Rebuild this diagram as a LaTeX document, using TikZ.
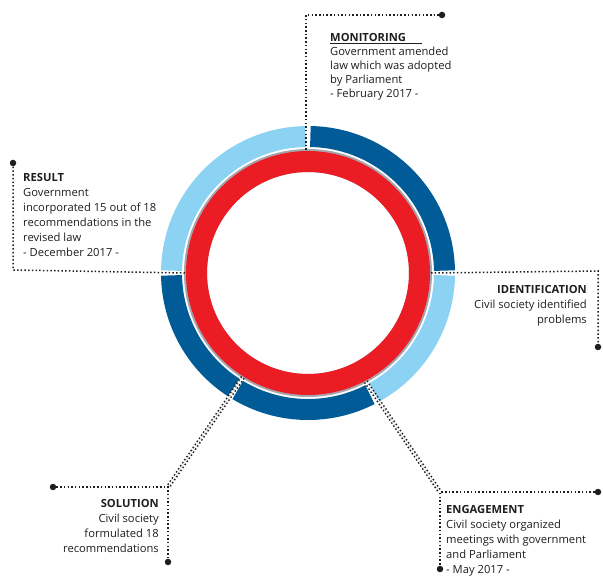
\documentclass[tikz,border=0pt]{standalone}
\usepackage{fontspec}
\setmainfont{Open Sans}
\usepackage{tikz}
\definecolor{ringdark}{RGB}{0,91,150}
\definecolor{ringlight}{RGB}{140,210,242}
\definecolor{ringred}{RGB}{236,28,36}
\definecolor{ringedge}{RGB}{165,165,175}
\definecolor{ink}{RGB}{30,30,30}
\tikzset{
  link/.style={draw=ink, line width=1.5pt, dash pattern=on 1.5pt off 2.2pt},
  twinlink/.style={link, double=white, double distance=1.3pt},
  enddot/.style={circle, fill=ink, inner sep=0pt, minimum size=6.5pt},
  stagetext/.style={inner sep=0pt, font=\fontsize{11.2}{15}\selectfont, text=ink},
}
\begin{document}
\begin{tikzpicture}[x=1pt,y=1pt]
\useasboundingbox (0,0) rectangle (604,576);

% the ring
\begin{scope}[shift={(308,303)}]
\foreach \from/\to/\col in {1/89/ringdark, 91/179/ringlight, 181/237/ringdark,
                            239/297/ringdark, 299/359/ringlight}
  \draw[\col, line width=21pt] (\from:136.5) arc[start angle=\from, end angle=\to, radius=136.5];
\draw[ringedge, line width=23pt] (0,0) circle[radius=112.5];
\draw[ringred, line width=21pt] (0,0) circle[radius=111.5];
\coordinate (res-in) at (180:123);
\coordinate (ide-in) at (0:123);
\coordinate (eng-in) at (-62:123);
\coordinate (sol-in) at (-122:123);
\end{scope}
\coordinate (mon-in) at (306,426);

% corners and end dots
\coordinate (mon-corner) at (306,561);
\node[enddot] (mon-dot) at (442,561) {};
\coordinate (res-corner) at (13,306);
\node[enddot] (res-dot) at (13,413) {};
\coordinate (ide-corner) at (598,305);
\node[enddot] (ide-dot) at (598,229) {};
\coordinate (eng-corner) at (440,84);
\node[enddot] (eng-dot1) at (598,84) {};
\node[enddot] (eng-dot2) at (440,7) {};
\coordinate (sol-corner) at (168,89);
\node[enddot] (sol-dot1) at (53,89) {};
\node[enddot] (sol-dot2) at (168,14) {};

% connectors
\draw[link] (mon-in) -- (mon-corner) -- (mon-dot);
\draw[link] (res-in) -- (res-corner) -- (res-dot);
\draw[link] (ide-in) -- (ide-corner) -- (ide-dot);
\draw[twinlink] (eng-in) -- (eng-corner);
\draw[link] (eng-dot1) -- (eng-corner) -- (eng-dot2);
\draw[twinlink] (sol-in) -- (sol-corner);
\draw[link] (sol-dot1) -- (sol-corner) -- (sol-dot2);

% texts (anchored at the baseline of the last line)
\node[stagetext, anchor=base west, align=left] (mon-text) at (330,478)
  {{\bfseries\underline{MONITORING\hspace{16pt}}}\\[-1pt]Government amended\\[-1pt]law which was adopted\\[-1pt]by Parliament\\[-1pt]- February 2017 -};
\node[stagetext, anchor=base west, align=left] (res-text) at (23,319)
  {{\bfseries RESULT}\\Government\\incorporated 15 out of 18\\recommendations in the\\revised law\\- December 2017 -};
\node[stagetext, anchor=base east, align=right] (ide-text) at (587,253)
  {{\bfseries IDENTIFICATION}\\Civil society identified\\problems};
\node[stagetext, anchor=base west, align=left] (eng-text) at (446,3)
  {{\bfseries ENGAGEMENT}\\Civil society organized\\meetings with government\\and Parliament\\- May 2017 -};
\node[stagetext, anchor=base east, align=right] (sol-text) at (159,24)
  {{\bfseries SOLUTION}\\Civil society\\formulated 18\\recommendations};
\end{tikzpicture}
\end{document}
